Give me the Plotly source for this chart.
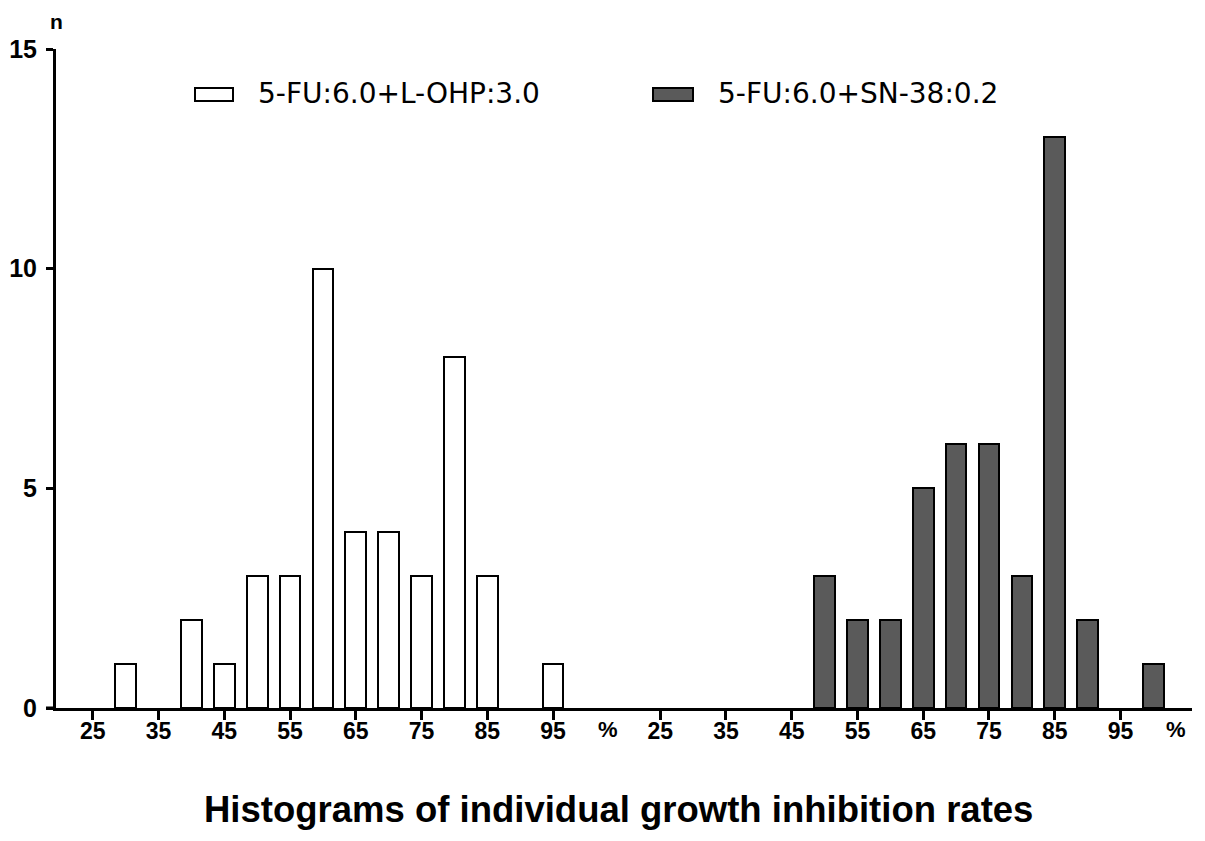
import plotly.graph_objects as go

# ---- data ----
series_names = ["5-FU:6.0+L-OHP:3.0", "5-FU:6.0+SN-38:0.2"]
left_bins = [30, 40, 45, 50, 55, 60, 65, 70, 75, 80, 85, 95]
left_counts = [1, 2, 1, 3, 3, 10, 4, 4, 3, 8, 3, 1]
right_bins = [50, 55, 60, 65, 70, 75, 80, 85, 90, 100]
right_counts = [3, 2, 2, 5, 6, 6, 3, 13, 2, 1]
tick_values = [25, 35, 45, 55, 65, 75, 85, 95]
tick_labels = ["25", "35", "45", "55", "65", "75", "85", "95"]
unit_label = "%"
unit_pos = 103.4
y_ticks = [0, 5, 10, 15]
y_label = "n"
title_text = "Histograms of individual growth inhibition rates"

# ---- layout constants (page body has an 8px margin) ----
OFF = 8
GROUP_OFFSET = 86.3
BAR_W = 3.15
W, H = 1205 - OFF, 841 - OFF
ML, MR, MT, MB = 56 - OFF, 13, 49 - OFF, 133
PW = W - ML - MR
PH = H - MT - MB
XTICK_FONT = dict(family="Liberation Sans", size=23, color="black", weight="bold")
YTICK_FONT = dict(family="Liberation Sans", size=25, color="black", weight="bold")


def px_x(p):
    # screen pixel -> paper coordinate
    return (p - OFF - ML) / PW


def px_y(p):
    return (H - MB - (p - OFF)) / PH


fig = go.Figure()
fig.add_trace(go.Bar(
    x=left_bins, y=left_counts, width=BAR_W, name=series_names[0],
    marker=dict(color="white", line=dict(color="black", width=2)),
    showlegend=False,
))
fig.add_trace(go.Bar(
    x=[b + GROUP_OFFSET for b in right_bins], y=right_counts, width=BAR_W,
    name=series_names[1],
    marker=dict(color="#5a5a5a", line=dict(color="black", width=2)),
    showlegend=False,
))

all_tick_vals = tick_values + [v + GROUP_OFFSET for v in tick_values]
all_tick_text = tick_labels + tick_labels

fig.update_layout(
    width=W, height=H,
    margin=dict(l=ML, r=MR, t=MT, b=MB),
    plot_bgcolor="white", paper_bgcolor="white",
    bargap=0,
    xaxis=dict(
        range=[19.4, 19.4 + PW / 6.575],
        tickvals=all_tick_vals, ticktext=all_tick_text,
        ticks="outside", ticklen=9, tickwidth=2.5, tickcolor="black",
        ticklabelstandoff=-9, automargin=False,
        showline=True, linecolor="black", linewidth=3,
        showgrid=False, zeroline=False,
        tickfont=XTICK_FONT,
    ),
    yaxis=dict(
        range=[0, 15], tickvals=y_ticks,
        ticks="outside", ticklen=7, tickwidth=2.5, tickcolor="black",
        ticklabelstandoff=4, automargin=False,
        showline=True, linecolor="black", linewidth=3,
        showgrid=False, zeroline=False,
        tickfont=YTICK_FONT,
    ),
)

# x-axis extension slightly left of the y-axis
fig.add_shape(type="line", xref="paper", yref="y", x0=px_x(46), x1=0, y0=0, y1=0,
              line=dict(color="black", width=3))

# "%" unit labels under each group
for base in (0, GROUP_OFFSET):
    fig.add_annotation(x=unit_pos + base, xref="x", y=px_y(729), yref="paper",
                       text=unit_label, showarrow=False,
                       font=dict(family="Liberation Sans", size=22, color="black", weight="bold"),
                       xanchor="center", yanchor="middle")

# y-axis label "n"
fig.add_annotation(x=0, xref="paper", y=px_y(21), yref="paper", text=y_label,
                   showarrow=False, xanchor="center", yanchor="middle",
                   font=dict(family="Liberation Sans", size=21, color="black", weight="bold"))

# bottom title
fig.add_annotation(x=px_x(618), xref="paper", y=px_y(809), yref="paper", text=title_text,
                   showarrow=False, xanchor="center", yanchor="middle",
                   font=dict(family="Liberation Sans", size=36.5, color="black", weight="bold"))

# manual legend
legend_items = [
    (195, 233, 256, "white"),
    (653, 693, 716, "#5a5a5a"),
]
for (bx0, bx1, tx, col), name in zip(legend_items, series_names):
    fig.add_shape(type="rect", xref="paper", yref="paper",
                  x0=px_x(bx0), x1=px_x(bx1), y0=px_y(101), y1=px_y(88),
                  fillcolor=col, line=dict(color="black", width=2))
    fig.add_annotation(x=px_x(tx), xref="paper", y=px_y(93), yref="paper", text=name,
                       showarrow=False, xanchor="left", yanchor="middle",
                       font=dict(family="DejaVu Sans", size=28, color="black"))

fig.write_html("out.html")
